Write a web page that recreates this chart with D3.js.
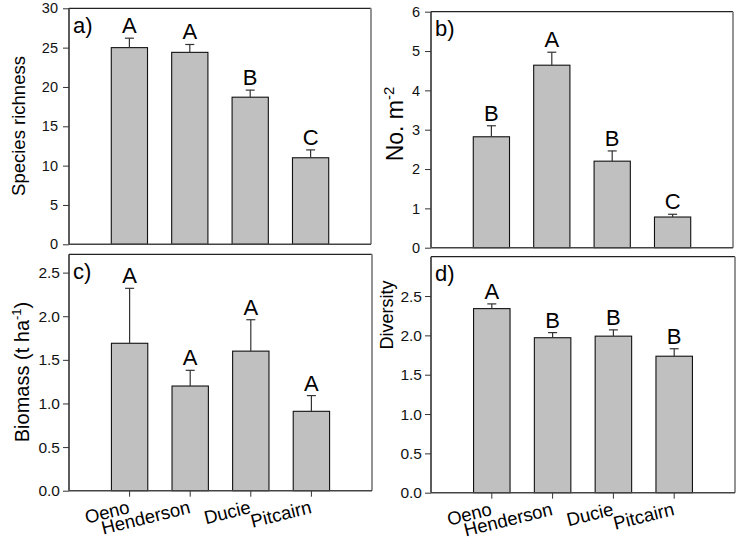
<!DOCTYPE html>
<html>
<head>
<meta charset="utf-8">
<script src="https://cdn.jsdelivr.net/npm/d3@7"></script>
<style>
  html, body { margin: 0; padding: 0; background: #fff; }
  svg { display: block; font-family: "Liberation Sans", Arial, sans-serif; }
</style>
</head>
<body>
<svg id="chart" width="740" height="542"></svg>
<script>
// ---------------- data ----------------
const sites = ["Oeno", "Henderson", "Ducie", "Pitcairn"];

const richness     = [25.0, 24.4, 18.7, 11.0];
const richnessSE   = [1.2, 1.0, 0.9, 1.0];
const richnessGrp  = ["A", "A", "B", "C"];
const richnessTicks = [0, 5, 10, 15, 20, 25, 30];

const density      = [2.82, 4.64, 2.20, 0.78];
const densitySE    = [0.28, 0.33, 0.26, 0.07];
const densityGrp   = ["B", "A", "B", "C"];
const densityTicks = [0, 1, 2, 3, 4, 5, 6];

const biomass      = [1.69, 1.20, 1.60, 0.91];
const biomassSE    = [0.63, 0.18, 0.36, 0.18];
const biomassGrp   = ["A", "A", "A", "A"];
const biomassTicks = [0.0, 0.5, 1.0, 1.5, 2.0, 2.5];

const diversity    = [2.34, 1.97, 1.99, 1.735];
const diversitySE  = [0.06, 0.065, 0.08, 0.095];
const diversityGrp = ["A", "B", "B", "B"];
const diversityTicks = [0.0, 0.5, 1.0, 1.5, 2.0, 2.5];

// ---------------- panels ----------------
const svg = d3.select("#chart");

const panels = [
  { label: "a)", vals: richness, se: richnessSE, grp: richnessGrp, ticks: richnessTicks, max: 30, fmt: d3.format("d"),
    box: [69, 8.3, 371, 244.3], tickFont: 14.5, tickPad: 5, xlabels: false,
    title: ["Species richness"], titleX: 25, titleY: 126, titleFont: 18.5 },
  { label: "b)", vals: density, se: densitySE, grp: densityGrp, ticks: densityTicks, max: 6, fmt: d3.format("d"),
    box: [431, 11.7, 733, 247.7], tickFont: 14.5, tickPad: 5, xlabels: false,
    title: ["No. m", "-2", ""], titleX: 403, titleY: 124, titleFont: 23 },
  { label: "c)", vals: biomass, se: biomassSE, grp: biomassGrp, ticks: biomassTicks, max: 2.71, fmt: d3.format(".1f"),
    box: [69, 254.3, 372, 490.7], tickFont: 15.5, tickPad: 3, xlabels: true,
    title: ["Biomass (t ha", "-1", ")"], titleX: 29, titleY: 372, titleFont: 20 },
  { label: "d)", vals: diversity, se: diversitySE, grp: diversityGrp, ticks: diversityTicks, max: 3.0, fmt: d3.format(".1f"),
    box: [431, 256.7, 735, 492.7], tickFont: 15.5, tickPad: 3, xlabels: true,
    title: ["Diversity"], titleX: 393, titleY: 315, titleFont: 18 }
];

panels.forEach(p => {
  const [x0, y0, x1, y1] = p.box;
  const g = svg.append("g");

  const x = d3.scaleBand().domain(sites).range([x0, x1]).paddingInner(0.4).paddingOuter(0.7);
  const y = d3.scaleLinear().domain([0, p.max]).range([y1, y0]);

  // background + frame (top/right)
  g.append("rect").attr("x", x0).attr("y", y0).attr("width", x1 - x0).attr("height", y1 - y0)
    .attr("fill", "#fff").attr("stroke", "none");
  g.append("line").attr("x1", x0).attr("x2", x1).attr("y1", y0).attr("y2", y0)
    .attr("stroke", "#222").attr("stroke-width", 1.2);
  g.append("line").attr("x1", x1).attr("x2", x1).attr("y1", y0).attr("y2", y1)
    .attr("stroke", "#888").attr("stroke-width", 1.8);

  // bars
  g.selectAll("rect.bar").data(sites).enter().append("rect")
    .attr("class", "bar")
    .attr("x", d => x(d))
    .attr("width", x.bandwidth())
    .attr("y", (d, i) => y(p.vals[i]))
    .attr("height", (d, i) => y(0) - y(p.vals[i]))
    .attr("fill", "#c0c0c0").attr("stroke", "#111").attr("stroke-width", 1.1);

  // error bars (upper only) + group letters
  sites.forEach((s, i) => {
    const cx = x(s) + x.bandwidth() / 2;
    const top = y(p.vals[i] + p.se[i]);
    g.append("line").attr("x1", cx).attr("x2", cx).attr("y1", y(p.vals[i])).attr("y2", top)
      .attr("stroke", "#333").attr("stroke-width", 1.2);
    g.append("line").attr("x1", cx - 4.5).attr("x2", cx + 4.5).attr("y1", top).attr("y2", top)
      .attr("stroke", "#333").attr("stroke-width", 1.2);
    g.append("text").attr("x", cx).attr("y", top - 5)
      .attr("text-anchor", "middle").attr("font-size", 22).attr("fill", "#000")
      .text(p.grp[i]);
  });

  // y axis
  const yAxis = d3.axisLeft(y).tickValues(p.ticks).tickFormat(p.fmt).tickSize(6).tickPadding(p.tickPad);
  const ya = g.append("g").attr("transform", `translate(${x0},0)`).call(yAxis);
  ya.select(".domain").remove();
  ya.selectAll(".tick line").attr("stroke", "#333").attr("stroke-width", 1);
  ya.selectAll(".tick text").attr("font-size", p.tickFont).attr("fill", "#111")
    .attr("font-family", "Liberation Sans, Arial, sans-serif");
  g.append("line").attr("x1", x0).attr("x2", x0).attr("y1", y0).attr("y2", y1)
    .attr("stroke", "#333").attr("stroke-width", 1.6);

  // x axis
  if (p.xlabels) {
    const xAxis = d3.axisBottom(x).tickSize(6).tickFormat("");
    const xa = g.append("g").attr("transform", `translate(0,${y1})`).call(xAxis);
    xa.select(".domain").remove();
    xa.selectAll(".tick line").attr("stroke", "#333").attr("stroke-width", 1);
    sites.forEach(s => {
      const cx = x(s) + x.bandwidth() / 2 + 1;
      g.append("text")
        .attr("transform", `translate(${cx},${y1 + 22}) rotate(-14)`)
        .attr("text-anchor", "end").attr("font-size", 18.5).attr("fill", "#000")
        .text(s);
    });
  }
  g.append("line").attr("x1", x0).attr("x2", x1).attr("y1", y1).attr("y2", y1)
    .attr("stroke", "#444").attr("stroke-width", 1.6);

  // panel label
  g.append("text").attr("x", x0 + 4).attr("y", y0 + 24.5)
    .attr("font-size", 22).attr("fill", "#000").text(p.label);

  // axis title
  const t = g.append("text")
    .attr("transform", `translate(${p.titleX},${p.titleY}) rotate(-90)`)
    .attr("text-anchor", "middle").attr("font-size", p.titleFont).attr("fill", "#000");
  t.append("tspan").text(p.title[0]);
  if (p.title.length > 1) {
    t.append("tspan").attr("dy", -p.titleFont * 0.38).attr("font-size", p.titleFont * 0.65).text(p.title[1]);
    if (p.title[2]) t.append("tspan").attr("dy", p.titleFont * 0.38).text(p.title[2]);
  }
});
</script>
</body>
</html>
